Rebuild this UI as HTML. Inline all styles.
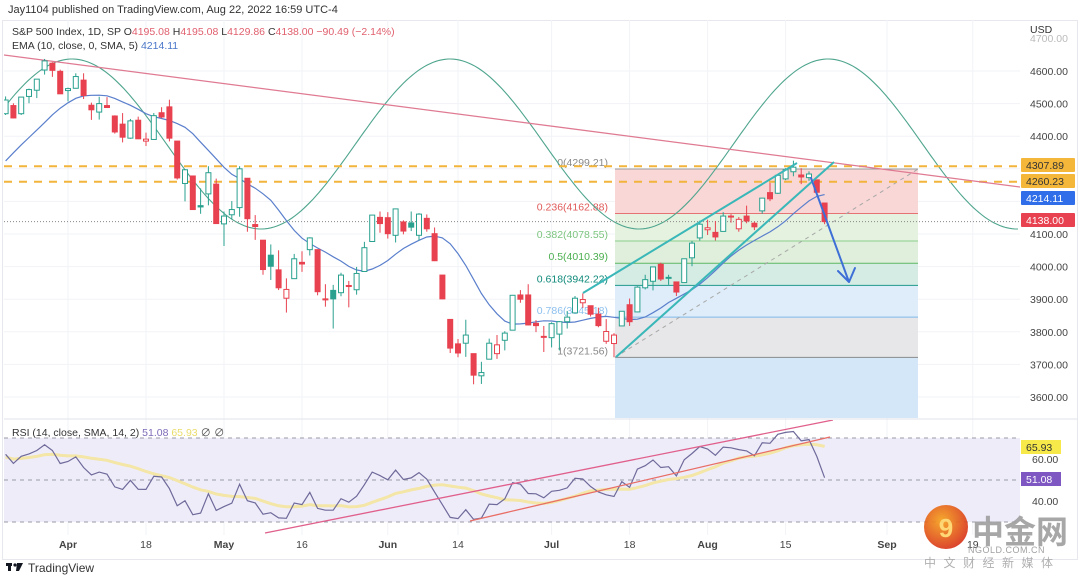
<!DOCTYPE html>
<html><head><meta charset="utf-8"><style>
body{margin:0;background:#fff;width:1080px;height:576px;overflow:hidden;font-family:"Liberation Sans",sans-serif}
svg text{font-family:"Liberation Sans","Noto Sans CJK SC",sans-serif}
</style></head><body>
<svg id="chart" width="1080" height="576" xmlns="http://www.w3.org/2000/svg">
<defs>
<clipPath id="pricePane"><rect x="4" y="20" width="1016" height="398"/></clipPath>
<clipPath id="rsiPane"><rect x="4" y="420" width="1016" height="115"/></clipPath>
<radialGradient id="logoGrad" cx="0.4" cy="0.35" r="0.7"><stop offset="0" stop-color="#f6a21c"/><stop offset="1" stop-color="#d8301c"/></radialGradient>
</defs>
<text x="8" y="13" font-size="11" fill="#333">Jay1104 published on TradingView.com, Aug 22, 2022 16:59 UTC-4</text>
<rect x="2.5" y="20.5" width="1075" height="539" fill="none" stroke="#e6e8ee"/>
<g id="grid"></g>
<g id="priceLayer" clip-path="url(#pricePane)"></g>
<line x1="4" y1="419" x2="1078" y2="419" stroke="#e0e3eb"/>
<g id="rsiLayer" clip-path="url(#rsiPane)"></g>
<g id="axisLayer"></g>
<text x="12" y="35" font-size="10.5" fill="#333">S&amp;P 500 Index, 1D, SP  <tspan fill="#333">O</tspan><tspan fill="#e0606e">4195.08</tspan><tspan fill="#333">  H</tspan><tspan fill="#e0606e">4195.08</tspan><tspan fill="#333">  L</tspan><tspan fill="#e0606e">4129.86</tspan><tspan fill="#333">  C</tspan><tspan fill="#e0606e">4138.00  −90.49 (−2.14%)</tspan></text>
<text x="12" y="49" font-size="10.5" fill="#333">EMA (10, close, 0, SMA, 5)  <tspan fill="#4a76c8">4214.11</tspan></text>
<text x="12" y="436" font-size="10.5" fill="#333">RSI (14, close, SMA, 14, 2)  <tspan fill="#7e6bb8">51.08</tspan>  <tspan fill="#e9dc6a">65.93</tspan>  <tspan fill="#555">∅  ∅</tspan></text>
<g>
<rect x="6" y="563" width="6" height="3" fill="#131722"/><rect x="8" y="563" width="3" height="8" fill="#131722"/>
<circle cx="15" cy="565" r="1.6" fill="#131722"/><path d="M17 563 L23 563 L19 571 L16 571 Z" fill="#131722"/>
</g>
<text x="28" y="572" font-size="12" fill="#333">TradingView</text>
<g opacity="0.92">
<circle cx="946" cy="527" r="22" fill="url(#logoGrad)"/>
<text x="946" y="537" font-size="26" font-weight="bold" fill="#ffd56a" text-anchor="middle">9</text>
<text x="972" y="543" font-size="32" font-weight="bold" fill="#a0a0a0">中金网</text>
<text x="968" y="553" font-size="9" fill="#999" letter-spacing="0.5">NGOLD.COM.CN</text>
<text x="924" y="567" font-size="12" fill="#aaa" letter-spacing="7.5">中文财经新媒体</text>
</g>
</svg>
<script>
// ---- data ----
const warmupCloses=[4306,4387,4363,4329,4201,4171,4278,4260,4204,4173,4262,4358,4412,4463,4461];
const dates=["Mar22","Mar23","Mar24","Mar25","Mar28","Mar29","Mar30","Mar31","Apr1","Apr4","Apr5","Apr6","Apr7","Apr8","Apr11","Apr12","Apr13","Apr14","Apr18","Apr19","Apr20","Apr21","Apr22","Apr25","Apr26","Apr27","Apr28","Apr29","May2","May3","May4","May5","May6","May9","May10","May11","May12","May13","May16","May17","May18","May19","May20","May23","May24","May25","May26","May27","May31","Jun1","Jun2","Jun3","Jun6","Jun7","Jun8","Jun9","Jun10","Jun13","Jun14","Jun15","Jun16","Jun17","Jun21","Jun22","Jun23","Jun24","Jun27","Jun28","Jun29","Jun30","Jul1","Jul5","Jul6","Jul7","Jul8","Jul11","Jul12","Jul13","Jul14","Jul15","Jul18","Jul19","Jul20","Jul21","Jul22","Jul25","Jul26","Jul27","Jul28","Jul29","Aug1","Aug2","Aug3","Aug4","Aug5","Aug8","Aug9","Aug10","Aug11","Aug12","Aug15","Aug16","Aug17","Aug18","Aug19","Aug22"];
const opens=[4469,4494,4469,4522,4541,4603,4624,4599,4540,4547,4572,4495,4474,4494,4462,4437,4394,4449,4385,4390,4472,4490,4385,4255,4278,4187,4223,4253,4131,4159,4181,4271,4129,4081,4035,3990,3903,3963,4013,4052,4052,3900,3927,3920,3942,3929,3985,4077,4151,4150,4096,4137,4134,4096,4148,4101,3974,3838,3763,3765,3733,3665,3716,3733,3774,3805,3913,3913,3826,3786,3782,3793,3831,3858,3889,3880,3854,3771,3764,3818,3883,3861,3935,3955,4007,3965,3953,3951,4027,4088,4113,4105,4108,4155,4116,4155,4133,4171,4227,4225,4269,4291,4281,4273,4266,4195];
const highs=[4522,4501,4520,4546,4575,4637,4627,4604,4549,4593,4593,4503,4521,4520,4464,4471,4453,4460,4411,4471,4489,4512,4385,4299,4278,4240,4308,4270,4169,4201,4308,4271,4158,4081,4068,4050,3964,4039,4047,4090,4052,3946,3944,3981,3956,3999,4076,4158,4169,4167,4177,4142,4169,4164,4160,4120,3974,3838,3778,3837,3733,3708,3779,3790,3802,3913,3928,3946,3836,3818,3829,3833,3864,3910,3918,3880,3874,3839,3796,3863,3902,3940,3975,3999,4012,3975,3953,4024,4079,4141,4144,4140,4167,4161,4152,4187,4138,4211,4257,4280,4302,4325,4302,4292,4266,4195];
const lows=[4465,4455,4465,4501,4517,4589,4582,4530,4507,4546,4514,4450,4451,4487,4408,4381,4392,4392,4370,4390,4455,4384,4267,4200,4175,4162,4188,4131,4063,4145,4153,4107,4082,3975,3959,3928,3859,3963,3984,4034,3912,3877,3810,3909,3875,3914,3985,4077,4104,4086,4074,4099,4109,4080,4107,4017,3900,3735,3722,3723,3639,3640,3716,3717,3743,3805,3889,3820,3799,3738,3752,3743,3810,3858,3873,3847,3814,3763,3722,3818,3818,3860,3930,3927,3956,3944,3910,3951,4001,4080,4097,4080,4108,4135,4107,4133,4112,4162,4201,4223,4265,4277,4253,4263,4219,4130];
const closes=[4511,4456,4520,4543,4575,4631,4602,4530,4546,4583,4525,4481,4500,4488,4413,4397,4447,4392,4391,4463,4459,4394,4272,4297,4175,4183,4288,4132,4155,4175,4300,4147,4123,3991,4001,3935,3930,4024,4008,4088,3923,3901,3901,3974,3941,3979,4058,4158,4132,4101,4177,4109,4121,4161,4116,4018,3901,3750,3735,3790,3667,3675,3765,3760,3796,3912,3900,3821,3819,3785,3825,3831,3845,3903,3899,3854,3819,3801,3790,3863,3831,3937,3960,3999,3962,3967,3922,4024,4072,4130,4119,4091,4155,4152,4145,4140,4122,4210,4208,4280,4297,4305,4275,4284,4228,4138];
const priceTicks=[3600,3700,3800,3900,4000,4100,4200,4300,4400,4500,4600];
const timeTickLabels=["Apr","18","May","16","Jun","14","Jul","18","Aug","15","Sep","19"];
const timeTickIndex=[8,18,28,38,49,58,70,80,90,100,113,124];
const fibLevels=[0,0.236,0.382,0.5,0.618,0.786,1,1.618];
const fibHigh=4299.21, fibLow=3721.56;
const hLevels=[4307.89,4260.23];
const rsiTicks=[40,60];

// ---- scales ----
const STEP=7.8, XSTART=5.6;
const xi=i=>XSTART+i*STEP;
const yp=p=>71+(4600-p)*0.326;
const yr=v=>480-(v-50)*2.1;
const NS="http://www.w3.org/2000/svg";
function mk(tag,attrs,parent){const e=document.createElementNS(NS,tag);for(const k in attrs)e.setAttribute(k,attrs[k]);parent.appendChild(e);return e;}
const G=document.getElementById('grid'),P=document.getElementById('priceLayer'),R=document.getElementById('rsiLayer'),A=document.getElementById('axisLayer');

// grid
priceTicks.forEach(p=>{const l=mk('line',{x1:4,x2:1020,y1:yp(p),y2:yp(p),stroke:'#f2f3f7'},G);

});
timeTickIndex.forEach(i=>{const l=mk('line',{x1:xi(i),x2:xi(i),y1:20,y2:535,stroke:'#f2f3f7'},G);

});

// fib
const fp=l=>fibHigh-l*(fibHigh-fibLow);
const fibFill=["#f9d7d6","#e5f2e0","#e0efdc","#d5ece5","#deedf9","#e7e7e9","#d4e7f8"];
const fibLine=["#9a9a9a","#e57373","#8ccf8e","#5cb860","#1e9a8a","#7fb8ea","#8a8a8a","#64a8e8"];
const fibText=["#888","#e05a5a","#7cc47e","#4caf50","#0f8a7a","#8cc0ee","#888","#64a8e8"];
const FX1=615,FX2=918;
for(let k=0;k<fibLevels.length-1;k++){const r=mk('rect',{x:FX1,y:yp(fp(fibLevels[k])),width:FX2-FX1,height:yp(fp(fibLevels[k+1]))-yp(fp(fibLevels[k])),fill:fibFill[k]},P);

}
fibLevels.forEach((l,k)=>{const y=yp(fp(l));const ln=mk('line',{x1:FX1,x2:FX2,y1:y,y2:y,stroke:fibLine[k],'stroke-width':1},P);


if(l<=1){const t=mk('text',{x:608,y:y-3,'font-size':10.5,fill:fibText[k],'text-anchor':'end'},P);t.textContent=l+'('+fp(l).toFixed(2)+')';

}});
const dg=mk('line',{x1:FX1,y1:yp(fibLow),x2:FX2,y2:yp(fibHigh),stroke:'#a8a8a8','stroke-dasharray':'4 4'},P);



// sine cycle
let sp='';for(let x=4;x<=1020;x+=3){const y=144-85*Math.cos(2*Math.PI*(x-450)/378);sp+=(x===4?'M':'L')+x+' '+y.toFixed(1);}
const sn=mk('path',{d:sp,fill:'none',stroke:'#4fa58e','stroke-width':1.1},P);



// horizontal dashed levels
hLevels.forEach(p=>{const l=mk('line',{x1:4,x2:1020,y1:yp(p),y2:yp(p),stroke:'#f2b43a','stroke-width':2,'stroke-dasharray':'8 7'},P);

});
const last=closes[closes.length-1];
const cl=mk('line',{x1:4,x2:1020,y1:yp(last),y2:yp(last),stroke:'#888','stroke-dasharray':'1 2'},P);



const tl=mk('line',{x1:4,y1:55,x2:1020,y2:187,stroke:'#df7a92','stroke-width':1.3},P);



// EMA(10) smoothed SMA5
const all=warmupCloses.concat(closes);const W=warmupCloses.length;
const ema=[];let ev=all[0];all.forEach((c,i)=>{ev=i===0?c:(c*2/11+ev*9/11);ema.push(ev);});
const sm=ema.map((v,i)=>{if(i<4)return v;let s=0;for(let j=0;j<5;j++)s+=ema[i-j];return s/5;});
let ep='';closes.forEach((c,i)=>{ep+=(i?'L':'M')+xi(i).toFixed(1)+' '+yp(sm[i+W]).toFixed(1);});
const el=mk('path',{d:ep,fill:'none',stroke:'#5a7fcc','stroke-width':1.2},P);



// candles
closes.forEach((c,i)=>{const o=opens[i],h=highs[i],l=lows[i];const prev=i?closes[i-1]:warmupCloses[W-1];
const col=c>=prev?'#2aa18f':'#e8414f';const hollow=c>o;const x=xi(i);
const g=mk('g',{},P);


const top=yp(Math.max(o,c)),bot=yp(Math.min(o,c));
mk('line',{x1:x,x2:x,y1:yp(h),y2:top,stroke:col,'stroke-width':1},g);
mk('line',{x1:x,x2:x,y1:bot,y2:yp(l),stroke:col,'stroke-width':1},g);
mk('rect',{x:x-2.5,y:top,width:5,height:Math.max(1,bot-top),fill:hollow?'#fff':col,stroke:col,'stroke-width':1},g);});

// channel lines + arrow
[[583,293,797,163],[616,357,834,162]].forEach(a=>{const l=mk('line',{x1:a[0],y1:a[1],x2:a[2],y2:a[3],stroke:'#3ab7b8','stroke-width':2},P);

});
const ar=mk('path',{d:'M811 178 L849 282 M849 282 L838 271 M849 282 L855 268',fill:'none',stroke:'#3e6fd6','stroke-width':2,'stroke-linecap':'round'},P);



// price axis
const usd=mk('text',{x:1030,y:33,'font-size':10.5,fill:'#333'},A);usd.textContent='USD';


const t47=mk('text',{x:1030,y:42,'font-size':10.5,fill:'#bbb'},A);t47.textContent='4700.00';


priceTicks.forEach(p=>{if(p===4200||p===4300)return;const t=mk('text',{x:1030,y:yp(p)+4,'font-size':10.5,fill:'#444'},A);t.textContent=p.toFixed(2);

});
const badges=[[hLevels[0],'#f4b73a','#333'],[hLevels[1],'#f4b73a','#333'],[4214.11,'#2f6ee8','#fff'],[last,'#e8414f','#fff']];
const badgeY=[165,181,198,220];
badges.forEach((b,k)=>{const g=mk('g',{},A);


mk('rect',{x:1021,y:badgeY[k]-7,width:54,height:14,fill:b[1],rx:1},g);
const t=mk('text',{x:1026,y:badgeY[k]+4,'font-size':10.5,fill:b[2]},g);t.textContent=b[0].toFixed(2);});

// time axis
timeTickLabels.forEach((lab,k)=>{const t=mk('text',{x:xi(timeTickIndex[k]),y:548,'font-size':10.5,fill:'#444','text-anchor':'middle','font-weight':isNaN(+lab)?'bold':'normal'},A);t.textContent=lab;

});

// RSI
let ag=0,al=0;for(let i=1;i<=14;i++){const d=all[i]-all[i-1];if(d>0)ag+=d;else al-=d;}ag/=14;al/=14;
const rsi=[];rsi[14]=100-100/(1+ag/al);
for(let i=15;i<all.length;i++){const d=all[i]-all[i-1];ag=(ag*13+Math.max(d,0))/14;al=(al*13+Math.max(-d,0))/14;rsi[i]=100-100/(1+ag/al);}
const rsiSma=[];for(let i=14;i<all.length;i++){let s=0,n=0;for(let j=0;j<14&&i-j>=14;j++){s+=rsi[i-j];n++;}rsiSma[i]=s/n;}
const bg=mk('rect',{x:4,y:yr(70),width:1016,height:yr(30)-yr(70),fill:'#efecfa'},R);


[70,50,30].forEach(v=>{const l=mk('line',{x1:4,x2:1020,y1:yr(v),y2:yr(v),stroke:'#9a9aa6','stroke-dasharray':'4 4'},R);

});
let sp2='',rp='';closes.forEach((c,i)=>{sp2+=(i?'L':'M')+xi(i).toFixed(1)+' '+yr(rsiSma[i+W]).toFixed(1);rp+=(i?'L':'M')+xi(i).toFixed(1)+' '+yr(rsi[i+W]).toFixed(1);});
const ys=mk('path',{d:sp2,fill:'none',stroke:'#f3e6a6','stroke-width':3},R);


const rl=mk('path',{d:rp,fill:'none',stroke:'#6e6a9a','stroke-width':1.2},R);


const r1=mk('line',{x1:265,y1:533,x2:833,y2:420,stroke:'#e0608c','stroke-width':1.3},R);


const r2=mk('line',{x1:470,y1:521,x2:830,y2:437,stroke:'#e86e66','stroke-width':1.3},R);


rsiTicks.forEach(v=>{const t=mk('text',{x:1032,y:yr(v)+4,'font-size':10.5,fill:'#444'},A);t.textContent=v.toFixed(2);

});
[[65.93,'#f7e94a','#333',447],[51.08,'#7e57c2','#fff',479]].forEach(b=>{const g=mk('g',{},A);


mk('rect',{x:1021,y:b[3]-7,width:40,height:14,fill:b[1]},g);
const t=mk('text',{x:1026,y:b[3]+4,'font-size':10.5,fill:b[2]},g);t.textContent=b[0].toFixed(2);});
</script>
</body></html>
